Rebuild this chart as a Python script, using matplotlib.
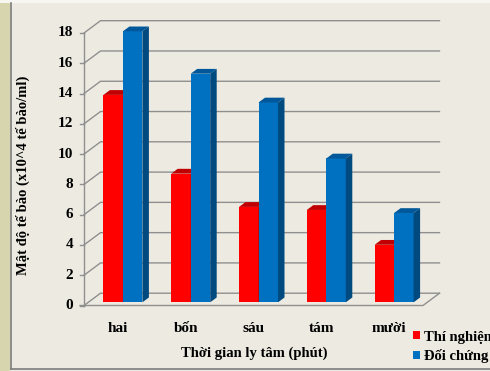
import matplotlib.pyplot as plt
from matplotlib.patches import Polygon, Rectangle, Patch
import numpy as np

categories = ['hai', 'bốn', 'sáu', 'tám', 'mười']
thi_nghiem = [13.7, 8.5, 6.3, 6.1, 3.8]
doi_chung = [17.9, 15.1, 13.2, 9.5, 5.9]
y_ticks = list(range(0, 19, 2))
series_names = ['Thí nghiệm', 'Đối chứng']

W, H = 490, 371
BG = '#edebe1'
GRID = '#8f8f8f'
FONT = dict(family='Liberation Serif', weight='bold', size=10.5)
TICK_FONT = dict(family='Liberation Serif', weight='bold', size=11)

fig = plt.figure(figsize=(W / 100, H / 100), dpi=100)
fig.patch.set_facecolor(BG)

# textured strip on the left and the frame lines
fig.patches.append(Rectangle((0, 0), 10 / W, 1, transform=fig.transFigure,
                             facecolor='#d6d5ae', edgecolor='none'))
fig.patches.append(Rectangle((0, 1 - 3 / H), 1, 3 / H, transform=fig.transFigure,
                             facecolor='#f7f6f1', edgecolor='none'))
fig.add_artist(plt.Line2D([10.5 / W, 10.5 / W], [2 / H, 1 - 3 / H], color='#7d7d7d', lw=1.2))
fig.add_artist(plt.Line2D([10.5 / W, 1], [2 / H, 2 / H], color='#7d7d7d', lw=1.2))

# front plane of the 3d box
ax = fig.add_axes([84 / W, 1 - 305.5 / H, 339 / W, 272.5 / H])
ax.set_xlim(-0.5, 4.5)
ax.set_ylim(0, 18)
ax.axis('off')

ppx = 339 / 5.0       # pixels per category
ppy = 272.5 / 18.0    # pixels per unit


def dx(p):
    return p / ppx


def dy(p):
    return p / ppy


wall_x, wall_y = dx(16.5), dy(12.3)
x0, x1 = -0.5, 4.5

# back wall grid and left wall ticks
for v in y_ticks:
    ax.plot([x0, x0 + wall_x, x1 + wall_x], [v, v + wall_y, v + wall_y],
            color=GRID, lw=1.0, clip_on=False, zorder=1)
    ax.plot([x0 - dx(4), x0], [v, v], color=GRID, lw=1.0, clip_on=False, zorder=1)
    ax.text(x0 - dx(11), v, str(v), ha='right', va='center', fontdict=TICK_FONT)

# front axis and floor
ax.plot([x0, x0], [0, 18], color=GRID, lw=1.0, clip_on=False, zorder=1)
ax.plot([x0 - dx(4), x1, x1 + wall_x], [0, 0, wall_y],
        color=GRID, lw=1.0, clip_on=False, zorder=1)

# 3d columns
bw = dx(19.5)
front_x, front_y = dx(5), dy(3.2)
cap_x, cap_y = dx(6.5), dy(4.8)
x = np.arange(len(categories))

styles = [
    (thi_nghiem, -1, '#ff0000', '#c00000', '#a00000'),
    (doi_chung, 0, '#0070c0', '#00589a', '#004a80'),
]
for vals, shift, c_front, c_top, c_side in styles:
    bars = ax.bar(x + front_x + shift * bw, vals, bw, bottom=front_y, align='edge',
                  color=c_front, linewidth=0, zorder=3, clip_on=False)
    for b in bars:
        l, r = b.get_x(), b.get_x() + b.get_width()
        top = b.get_y() + b.get_height()
        bot = b.get_y()
        ax.add_patch(Polygon([(l, top), (r, top), (r + cap_x, top + cap_y), (l + cap_x, top + cap_y)],
                             closed=True, facecolor=c_top, edgecolor='none', zorder=3, clip_on=False))
        ax.add_patch(Polygon([(r, bot), (r + cap_x, bot + cap_y), (r + cap_x, top + cap_y), (r, top)],
                             closed=True, facecolor=c_side, edgecolor='none', zorder=3, clip_on=False))

# category labels and axis titles
tx = ax.get_xaxis_transform()
for i, c in enumerate(categories):
    ax.text(i, -22.5 / 272.5, c, ha='center', va='center', transform=tx, fontdict=TICK_FONT)

fig.text(254 / W, 1 - 353 / H, 'Thời gian ly tâm (phút)', ha='center', va='center', fontdict=FONT)
fig.text(23 / W, 1 - 175 / H, 'Mật độ tế bào (x10^4 tế bào/ml)', ha='center', va='center',
         rotation=90, fontdict=FONT)

handles = [Patch(facecolor='#ff0000'), Patch(facecolor='#0070c0')]
fig.legend(handles, series_names, loc='center left', bbox_to_anchor=(413 / W, 1 - 347 / H),
           frameon=False, borderpad=0, borderaxespad=0,
           handlelength=0.48, handleheight=0.48, handletextpad=0.25,
           labelspacing=0.4, prop=dict(family='Liberation Serif', weight='bold', size=10.5))

fig.savefig('out.png', dpi=100, facecolor=BG)
